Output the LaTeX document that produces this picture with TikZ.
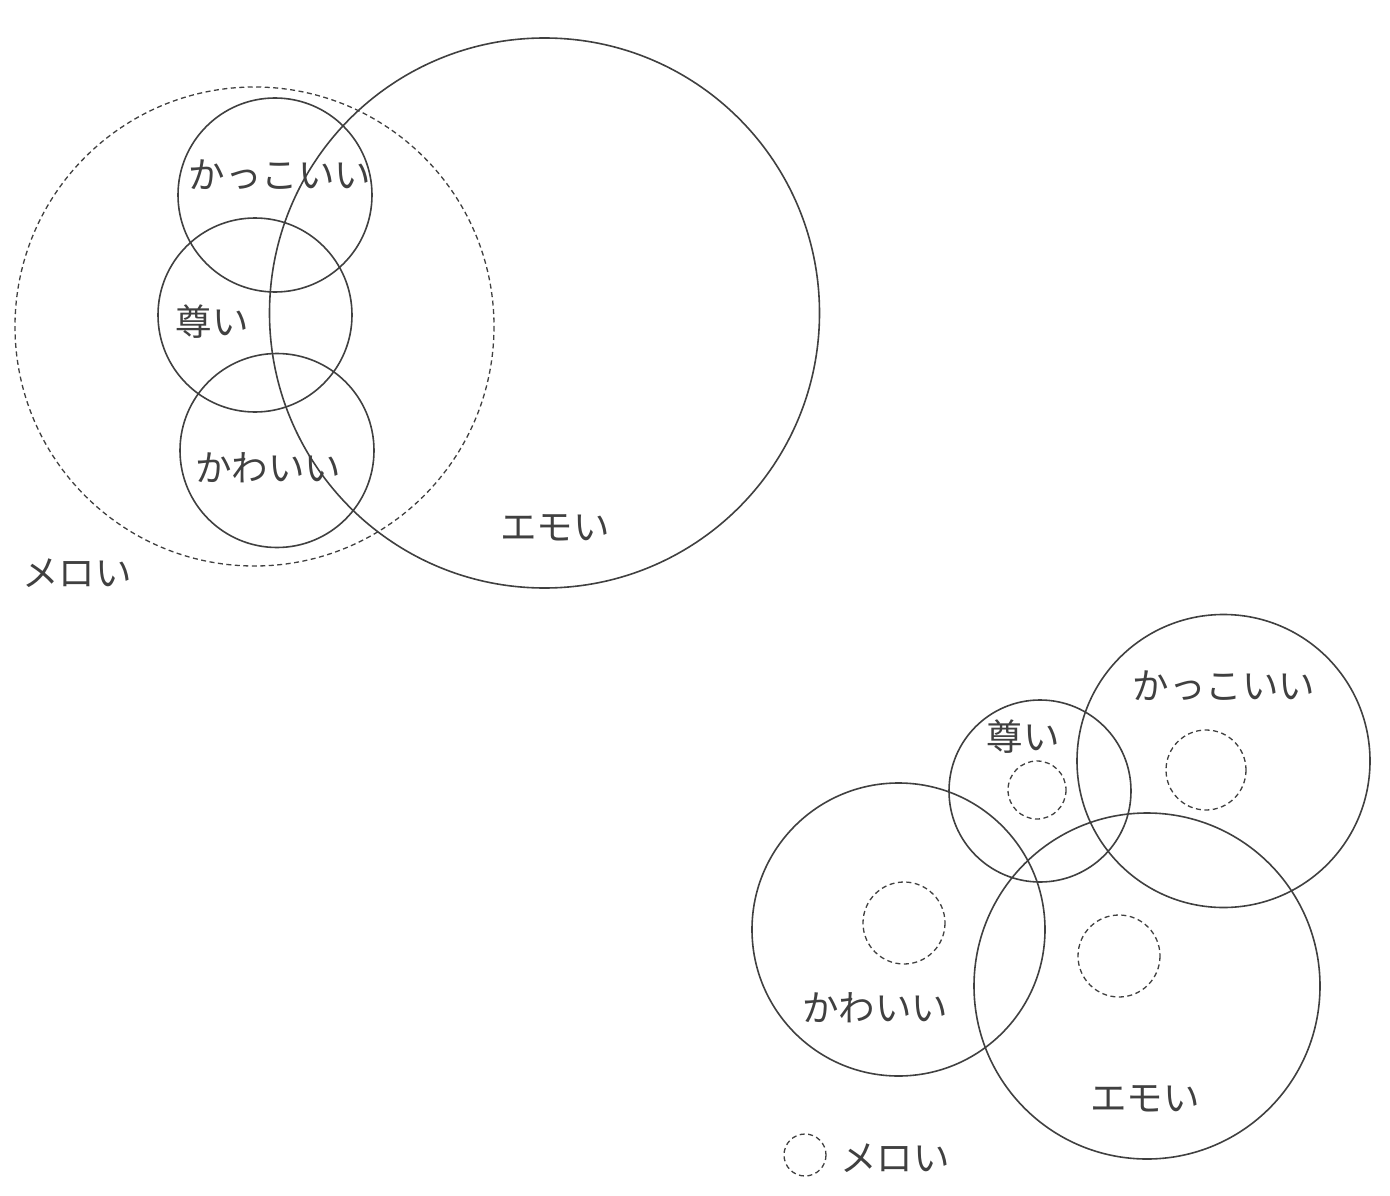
\documentclass[tikz,border=0pt]{standalone}
\usepackage{fontspec}
\newfontfamily\cjk{Noto Sans CJK JP}
\definecolor{ink}{HTML}{404040}
\begin{document}
\begin{tikzpicture}[x=1pt,y=-1pt,
  solidc/.style={draw=ink,line width=1.6pt},
  dashc/.style={draw=ink,line width=1.3pt,dash pattern=on 5pt off 3.5pt},
  lbl/.style={text=ink,font=\cjk\fontsize{36.5}{42}\selectfont,inner sep=0pt}]
\useasboundingbox (0,0) rectangle (1390,1196);
% top diagram
\draw[dashc] (254.5,326.5) circle (239.5);
\draw[solidc] (544.5,313) circle (275);
\draw[solidc] (275,195) circle (97);
\draw[solidc] (255,315) circle (97);
\draw[solidc] (277,450.5) circle (97);
\node[lbl] (k1) at (280,175) {かっこいい};
\node[lbl] (t1) at (212,322) {尊い};
\node[lbl] (w1) at (268,468) {かわいい};
\node[lbl] (e1) at (555,528) {エモい};
\node[lbl] (m1) at (77,573) {メロい};
% bottom diagram
\draw[solidc] (1223.5,761) circle (146.5);
\draw[solidc] (1040,791) circle (91);
\draw[solidc] (898.5,929.5) circle (146.5);
\draw[solidc] (1147,986) circle (173);
\draw[dashc] (1037,790) circle (29);
\draw[dashc] (1206,770) circle (40);
\draw[dashc] (904,923) circle (41);
\draw[dashc] (1119,956) circle (41);
\draw[dashc] (805,1155) circle (21);
\node[lbl] (k2) at (1224,686) {かっこいい};
\node[lbl] (t2) at (1023,737) {尊い};
\node[lbl] (w2) at (875,1008) {かわいい};
\node[lbl] (e2) at (1145,1099) {エモい};
\node[lbl] (m2) at (895,1158) {メロい};
\end{tikzpicture}
\end{document}
